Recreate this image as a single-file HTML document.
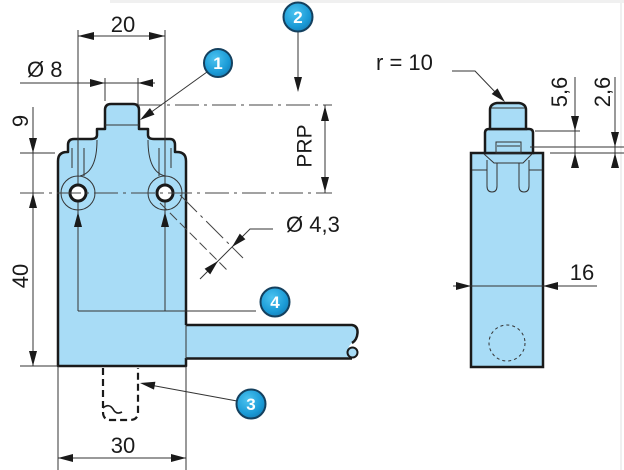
<!DOCTYPE html>
<html><head><meta charset="utf-8"><style>
html,body{margin:0;padding:0;background:#fff;}
svg{display:block;}
text{font-family:"Liberation Sans",sans-serif;fill:#1a1a1a;}
</style></head><body>
<svg width="624" height="470" viewBox="0 0 624 470" xmlns="http://www.w3.org/2000/svg">
<defs>
<radialGradient id="bg" cx="0.4" cy="0.35" r="0.7">
<stop offset="0" stop-color="#4cc3f0"/><stop offset="0.7" stop-color="#1a9ad6"/><stop offset="1" stop-color="#157fb8"/>
</radialGradient>
</defs>
<rect x="110" y="0" width="514" height="3" fill="#f0f0f0"/>
<line x1="621" y1="3" x2="621" y2="470" stroke="#ececec" stroke-width="1.5"/>

<!-- LEFT VIEW -->
<path d="M184.5,325 L352,325 Q358,326 357.5,333 Q357,340 352,343 Q347,347 349,352 Q351,358 345,358.5 L184.5,358.5 Z" fill="#a8dcf6" stroke="none"/>
<path d="M186,325 L352,325 Q358,326 357.5,333 Q357,340 352,343" fill="none" stroke="#1a1a1a" stroke-width="2.5"/>
<path d="M186,358.5 L352,358.5" fill="none" stroke="#1a1a1a" stroke-width="2.5"/>
<circle cx="352.5" cy="352.5" r="5" fill="#a8dcf6" stroke="#1a1a1a" stroke-width="2"/>
<path d="M58,366 L58,161 Q58,152 67,152 L68,152 L68,145 Q68,139 74,139 L91,139 Q97,139 97,135 L97,129 L105,129 L105,110 Q105,104 111,104 L133,104 Q139,104 139,110 L139,129 L148,129 L148,135 Q148,139 154,139 L170,139 Q175,139 175,145 L175,152 L177,152 Q186,152 186,161 L186,366 Z" fill="#a8dcf6" stroke="none"/>
<path d="M186,325 L186,161 Q186,152 177,152 L175,152 L175,145 Q175,139 170,139 L154,139 Q148,139 148,135 L148,129 L139,129 L139,110 Q139,104 133,104 L111,104 Q105,104 105,110 L105,129 L97,129 L97,135 Q97,139 91,139 L74,139 Q68,139 68,145 L68,152 L67,152 Q58,152 58,161 L58,366 L186,366 L186,358" fill="none" stroke="#1a1a1a" stroke-width="2.5" stroke-linejoin="round"/>
<line x1="186" y1="325" x2="186" y2="359" stroke="#333" stroke-width="1"/>
<g fill="none" stroke="#333" stroke-width="1">
<path d="M105,125 L139,125"/>
<path d="M72,148 L72,168"/><path d="M84,148 L84,176"/>
<path d="M97,140 Q97,172 80,176"/>
<path d="M148,140 Q148,172 165,176"/><path d="M159,148 L159,176"/><path d="M171,148 L171,168"/>
<circle cx="78" cy="193" r="17"/><circle cx="165" cy="193" r="17"/>
<line x1="78" y1="30" x2="78" y2="311"/>
<line x1="165" y1="30" x2="165" y2="311"/>
<line x1="78" y1="311" x2="256" y2="311"/>
</g>
<circle cx="78" cy="193" r="8" fill="#fff" stroke="#1a1a1a" stroke-width="3"/>
<circle cx="165" cy="193" r="8" fill="#fff" stroke="#1a1a1a" stroke-width="3"/>
<g stroke="#444" stroke-width="1" fill="none" stroke-dasharray="24 5 3 5">
<line x1="138" y1="105" x2="332" y2="105"/>
<line x1="20" y1="193" x2="332" y2="193"/>
<line x1="180" y1="195" x2="243" y2="258"/>
</g>
<line x1="160" y1="203" x2="227" y2="270" stroke="#444" stroke-width="1" stroke-dasharray="10 4"/>
<g stroke="#333" stroke-width="1" fill="none">
<line x1="78" y1="36" x2="165" y2="36"/>
<line x1="20" y1="83" x2="155" y2="83"/>
<line x1="105" y1="78" x2="105" y2="101"/>
<line x1="138" y1="78" x2="138" y2="105"/>
<line x1="33" y1="107" x2="33" y2="366"/>
<line x1="20" y1="153" x2="55" y2="153"/>
<line x1="20" y1="366" x2="58" y2="366"/>
<line x1="325" y1="105" x2="325" y2="193"/>
<line x1="298" y1="31" x2="298" y2="90"/>
<line x1="207" y1="72" x2="150" y2="113"/>
<path d="M200,279 L250,229 L273,229"/>
<line x1="237" y1="401" x2="150" y2="385"/>
<line x1="58" y1="366" x2="58" y2="470"/>
<line x1="186" y1="366" x2="186" y2="470"/>
<line x1="58" y1="458" x2="186" y2="458"/>
</g>
<g fill="none" stroke="#1a1a1a" stroke-width="2.2" stroke-dasharray="7 4">
<path d="M103,368 L103,412 Q103,420 111,420 L130,420 Q138,420 138,412 L138,368"/>
</g>
<path d="M103,408 Q109,403 113,409 Q116,415 122,412" fill="none" stroke="#1a1a1a" stroke-width="1.6"/>
<g fill="#1a1a1a">
<polygon points="78,36 94,32 94,40"/>
<polygon points="165,36 149,32 149,40"/>
<polygon points="105,83 90,79 90,87"/>
<polygon points="138,83 153,79 153,87"/>
<polygon points="33,153 29,138 37,138"/>
<polygon points="33,193 29,208 37,208"/>
<polygon points="33,366 29,351 37,351"/>
<polygon points="78,212 74,227 82,227"/>
<polygon points="165,212 161,227 169,227"/>
<polygon points="140,120 154.5,114.6 149.9,108"/>
<polygon points="298,92 294,77 302,77"/>
<polygon points="325,106 321,121 329,121"/>
<polygon points="325,192 321,177 329,177"/>
<polygon points="232,247 245.4,239.2 239.8,233.6"/>
<polygon points="218,261 210.2,274.4 204.6,268.8"/>
<polygon points="140,383 154,389.6 155.4,381.8"/>
<polygon points="58,458 73,454 73,462"/>
<polygon points="186,458 171,454 171,462"/>
</g>
<g font-size="22">
<text x="123" y="32" text-anchor="middle">20</text>
<text x="27" y="77">Ø 8</text>
<text x="286" y="232">Ø 4,3</text>
<text x="123" y="453" text-anchor="middle">30</text>
<text transform="translate(20,121) rotate(-90)" text-anchor="middle" dy="0.36em">9</text>
<text transform="translate(20,276) rotate(-90)" text-anchor="middle" dy="0.36em">40</text>
<text transform="translate(304,146) rotate(-90)" text-anchor="middle" dy="0.36em" font-size="21">PRP</text>
</g>

<!-- RIGHT VIEW -->
<rect x="471" y="153" width="72" height="214" fill="#a8dcf6" stroke="#1a1a1a" stroke-width="2.5"/>
<path d="M485,153 L485,133 Q485,129 489,129 L529,129 Q533,129 533,133 L533,153 Z" fill="#a8dcf6" stroke="#1a1a1a" stroke-width="2.5"/>
<path d="M490,129 L490,110 Q490,104 497,103 L519,103 Q526,104 526,110 L526,129 Z" fill="#a8dcf6" stroke="#1a1a1a" stroke-width="2.5"/>
<g fill="none" stroke="#333" stroke-width="1">
<line x1="491" y1="108" x2="525" y2="108"/>
<rect x="496" y="142" width="25" height="11"/>
<line x1="497" y1="146" x2="520" y2="146"/>
<path d="M484,154 L494,163 L523,163 L532,154"/>
<path d="M487,160 L487,186 Q487,192 492,192 Q497,192 497,186 L497,163"/>
<path d="M529,160 L529,186 Q529,192 524,192 Q519,192 519,186 L519,163"/>
<line x1="472" y1="170" x2="487" y2="170"/>
<line x1="529" y1="170" x2="542" y2="170"/>
<line x1="453" y1="286" x2="597" y2="286"/>
<path d="M452,71 L475,71 L497,94"/>
<line x1="575" y1="77" x2="575" y2="168"/>
<line x1="615" y1="77" x2="615" y2="168"/>
<line x1="535" y1="131" x2="580" y2="131"/>
<line x1="530" y1="147" x2="624" y2="147"/>
<line x1="550" y1="153" x2="624" y2="153"/>
</g>
<circle cx="507" cy="343" r="18" fill="none" stroke="#333" stroke-width="1" stroke-dasharray="3 3"/>
<g fill="#1a1a1a">
<polygon points="471,286 456,282 456,290"/>
<polygon points="543,286 558,282 558,290"/>
<polygon points="505,102 491.7,94 497.5,88.4"/>
<polygon points="575,131 571,116 579,116"/>
<polygon points="575,153 571,168 579,168"/>
<polygon points="615,147 611,132 619,132"/>
<polygon points="615,153 611,168 619,168"/>
</g>
<g font-size="22">
<text x="376" y="70">r = 10</text>
<text x="582" y="280" text-anchor="middle">16</text>
<text transform="translate(559,92) rotate(-90)" text-anchor="middle" dy="0.36em">5,6</text>
<text transform="translate(602,92) rotate(-90)" text-anchor="middle" dy="0.36em">2,6</text>
</g>

<g stroke="#14405e" stroke-width="2" fill="url(#bg)">
<circle cx="218" cy="63" r="14"/>
<circle cx="298" cy="17" r="14.5"/>
<circle cx="251" cy="404" r="14.5"/>
<circle cx="275" cy="302" r="14.5"/>
</g>
<g font-size="17" font-weight="bold" text-anchor="middle" style="fill:#fff">
<text x="218" y="69" style="fill:#fff">1</text>
<text x="298" y="23" style="fill:#fff">2</text>
<text x="251" y="410" style="fill:#fff">3</text>
<text x="275" y="308" style="fill:#fff">4</text>
</g>
</svg>
</body></html>
